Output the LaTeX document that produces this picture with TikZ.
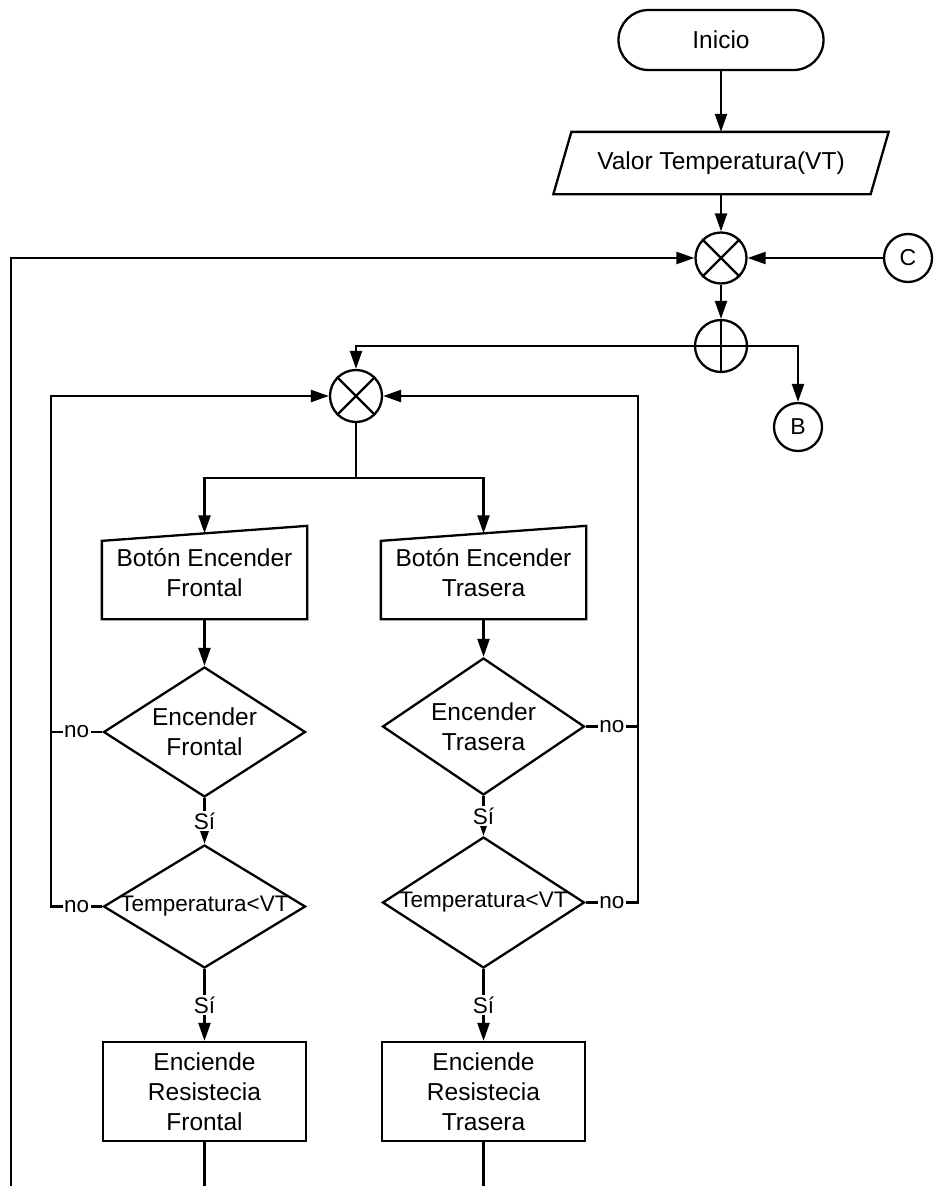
\documentclass[tikz,border=0pt]{standalone}
\usepackage{fontspec}
\setmainfont{Liberation Sans}
\usetikzlibrary{shapes.geometric,arrows.meta,calc}

\begin{document}
\begin{tikzpicture}[x=1pt,y=-1pt,line width=2.3pt,
  arrow/.style={-{Triangle[length=18pt,width=12pt]}},
  base/.style={draw,font=\fontsize{24.5}{30}\selectfont,align=center,inner sep=0pt},
  term/.style={base,rounded corners=30pt,minimum width=205pt,minimum height=60pt},
  io/.style={font=\fontsize{24.5}{30}\selectfont,align=center,inner sep=0pt,
    minimum width=315pt,minimum height=60pt},
  junction/.style={draw,circle,minimum size=51pt,inner sep=0pt},
  conn/.style={draw,circle,minimum size=48pt,inner sep=0pt,font=\fontsize{23}{26}\selectfont},
  minput/.style={font=\fontsize{24.5}{30}\selectfont,align=center,inner sep=0pt,
    minimum width=203pt,minimum height=91pt},
  dec/.style={base,diamond,aspect=1.55,minimum width=202pt},
  proc/.style={base,minimum width=203pt,minimum height=99pt},
  lbl/.style={fill=white,inner sep=1.5pt,font=\fontsize{22.5}{26}\selectfont}]

\useasboundingbox (0,0) rectangle (934,1186);

% start, input and the two merging points
\node[term] (inicio) at (721,40) {Inicio};
\node[io] (valor) at (721,163) {Valor Temperatura(VT)};
\draw ($(valor.north west)+(9,0)$) -- ($(valor.north east)+(9,0)$)
  -- ($(valor.south east)+(-9,0)$) -- ($(valor.south west)+(-9,0)$) -- cycle;
\node[junction] (xtop) at (721,258) {};
\draw (xtop.north west) -- (xtop.south east) (xtop.north east) -- (xtop.south west);
\node[conn] (C) at (908,258) {C};
\node[junction,minimum size=52pt] (plus) at (721,346) {};
\draw (plus.north) -- (plus.south) (plus.west) -- (plus.east);
\node[conn] (B) at (798,427) {B};
\node[junction,minimum size=52pt] (xmid) at (356,396) {};
\draw (xmid.north west) -- (xmid.south east) (xmid.north east) -- (xmid.south west);

% manual inputs
\node[minput] (mif) at (204.5,572.5) {Botón Encender\\Frontal};
\draw (mif.south west) -- (mif.south east) -- (mif.north east) -- ($(mif.north west)+(0,15)$) -- cycle;
\node[minput] (mit) at (483.5,572.5) {Botón Encender\\Trasera};
\draw (mit.south west) -- (mit.south east) -- (mit.north east) -- ($(mit.north west)+(0,15)$) -- cycle;
\coordinate (mif-in) at ($($(mif.north west)+(0,15)$)!0.5!(mif.north east)$);
\coordinate (mit-in) at ($($(mit.north west)+(0,15)$)!0.5!(mit.north east)$);

% decisions
\node[dec,minimum height=130pt] (d1f) at (204.5,732) {Encender\\Frontal};
\node[dec,minimum height=137pt] (d1t) at (483.5,726.5) {Encender\\Trasera};
\node[dec,minimum height=123pt,font=\fontsize{22.5}{26}\selectfont] (d2f) at (204.5,906.5) {\makebox[0pt]{Temperatura<VT}};
\node[dec,minimum height=131pt,font=\fontsize{22.5}{26}\selectfont] (d2t) at (483.5,902.5) {\makebox[0pt]{Temperatura<VT}};

% actions
\node[proc] (rf) at (204.5,1091.5) {Enciende\\Resistecia\\Frontal};
\node[proc] (rt) at (483.5,1091.5) {Enciende\\Resistecia\\Trasera};

% helper points for the loops
\coordinate (split) at (356,478);
\coordinate (loopL) at (51,397);
\coordinate (loopR) at (638,397);
\coordinate (edgeL) at (11,1186);
\coordinate (bottom) at (0,1186);

% main flow
\draw[arrow] (inicio) -- (valor);
\draw[arrow] (valor) -- (xtop);
\draw[arrow] (xtop) -- (plus);
\draw[arrow] (C) -- (xtop);
\draw[arrow] (edgeL) |- (xtop.west);
\draw[arrow] (plus.west) -| (xmid.north);
\draw[arrow] (plus.east) -| (B.north);
\draw (xmid.south) -- (split);
\draw[arrow] (split) -| (mif-in);
\draw[arrow] (split) -| (mit-in);

% front branch
\draw[arrow] (mif.south) -- (mif.south |- d1f.north);
\draw[arrow] (d1f.south) -- node[lbl] {Sí} (d2f.north);
\draw[arrow] (d2f.south) -- node[lbl] {Sí} (rf.north);
\draw (d1f.west) -- node[lbl] {no} (d1f.west -| loopL);
\draw[arrow] (d2f.west) -- node[lbl] {no} (d2f.west -| loopL) |- (xmid.west);
\draw (rf.south) -- (rf.south |- bottom);

% rear branch
\draw[arrow] (mit.south) -- (mit.south |- d1t.north);
\draw[arrow] (d1t.south) -- node[lbl] {Sí} (d2t.north);
\draw[arrow] (d2t.south) -- node[lbl] {Sí} (rt.north);
\draw (d1t.east) -- node[lbl] {no} (d1t.east -| loopR);
\draw[arrow] (d2t.east) -- node[lbl] {no} (d2t.east -| loopR) |- (xmid.east);
\draw (rt.south) -- (rt.south |- bottom);
\end{tikzpicture}
\end{document}
